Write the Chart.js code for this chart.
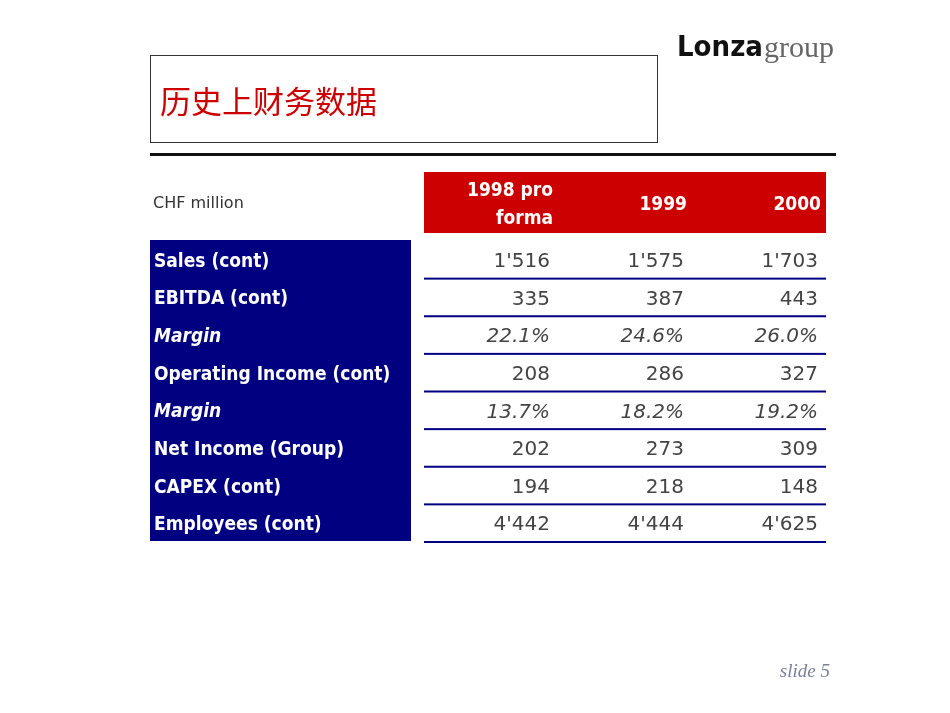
<!DOCTYPE html>
<html>
<head>
<meta charset="utf-8">
<script src="https://cdn.jsdelivr.net/npm/chart.js@4"></script>
<style>
  body { margin: 0; background: #fff; }
  #wrap { width: 950px; height: 713px; position: relative; }
</style>
</head>
<body>
<div id="wrap"><canvas id="myChart" width="950" height="713"></canvas></div>
<script>
var columns = ['1998 pro forma', '1999', '2000'];
var columnHeads = [['1998 pro', 'forma'], ['1999'], ['2000']];
var rowLabels = ['Sales (cont)', 'EBITDA (cont)', 'Margin', 'Operating Income (cont)', 'Margin', 'Net Income (Group)', 'CAPEX (cont)', 'Employees (cont)'];
var italicRows = [false, false, true, false, true, false, false, false];
var values1998 = ["1'516", '335', '22.1%', '208', '13.7%', '202', '194', "4'442"];
var values1999 = ["1'575", '387', '24.6%', '286', '18.2%', '273', '218', "4'444"];
var values2000 = ["1'703", '443', '26.0%', '327', '19.2%', '309', '148', "4'625"];
var allValues = [values1998, values1999, values2000];

var tablePlugin = {
  id: 'tablePlugin',
  afterDraw: function(chart) {
    var c = chart.ctx, xs = chart.scales.x, ys = chart.scales.y, a = chart.chartArea;
    var colW = (a.right - a.left) / columns.length;
    var rowH = (a.bottom - a.top) / rowLabels.length;
    c.save();
    // title box
    c.strokeStyle = '#333'; c.lineWidth = 1;
    c.strokeRect(150.5, 55.5, 507, 87);
    c.fillStyle = '#cc0000';
    c.font = '31px "Noto Sans CJK SC"';
    c.textBaseline = 'middle'; c.textAlign = 'left';
    c.fillText('历史上财务数据', 160, 101);
    // rule
    c.fillStyle = '#111';
    c.fillRect(150, 153, 686, 3);
    // logo
    c.fillStyle = '#111';
    c.font = 'bold 29px "DejaVu Sans Condensed"';
    c.fillText('Lonza', 677, 48);
    var lw = c.measureText('Lonza').width;
    c.fillStyle = '#666';
    c.font = '30px "Liberation Serif"';
    c.fillText('group', 677 + lw + 1, 49);
    // slide number
    c.fillStyle = '#7a7f9a';
    c.font = 'italic 19px "Liberation Serif"';
    c.textAlign = 'right';
    c.fillText('slide 5', 830, 672);
    // CHF million
    c.textAlign = 'left';
    c.fillStyle = '#333';
    c.font = '16px "DejaVu Sans"';
    c.fillText('CHF million', 153, 204);
    // header
    c.fillStyle = '#cc0000';
    c.fillRect(a.left, 172, a.right - a.left, 61);
    c.fillStyle = '#fff';
    c.font = 'bold 19px "DejaVu Sans Condensed"';
    c.textAlign = 'right';
    columns.forEach(function(col, i) {
      var xr = xs.getPixelForValue(i) + colW / 2 - 5;
      var lines = columnHeads[i];
      lines.forEach(function(t, k) {
        var y = 205 + (k - (lines.length - 1) / 2) * 28;
        c.fillText(t, xr, y);
      });
    });
    // row label block
    c.fillStyle = '#000080';
    c.fillRect(150, a.top, 261, a.bottom - a.top);
    c.textAlign = 'left';
    rowLabels.forEach(function(lab, r) {
      var y = ys.getPixelForValue(r);
      c.fillStyle = '#fff';
      c.font = (italicRows[r] ? 'italic ' : '') + 'bold 19px "DejaVu Sans Condensed"';
      c.fillText(lab, 154, y + 3);
      // separator
      c.fillStyle = '#000080';
      c.fillRect(a.left, y + rowH / 2, a.right - a.left, 2);
      allValues.forEach(function(vals, i) {
        c.fillStyle = '#444';
        c.font = (italicRows[r] ? 'italic ' : '') + '20px "DejaVu Sans"';
        c.textAlign = 'right';
        c.fillText(vals[r], xs.getPixelForValue(i) + colW / 2 - 8, y + 3);
        c.textAlign = 'left';
      });
    });
    c.restore();
  }
};

new Chart(document.getElementById('myChart'), {
  type: 'bar',
  data: { labels: columns, datasets: [] },
  options: {
    responsive: false,
    animation: false,
    layout: { padding: { left: 424, right: 124, top: 240, bottom: 172 } },
    plugins: { legend: { display: false }, tooltip: { enabled: false } },
    scales: {
      x: { type: 'category', labels: columns, display: false, offset: true },
      y: { type: 'category', labels: rowLabels, display: false, offset: true }
    }
  },
  plugins: [tablePlugin]
});
</script>
</body>
</html>
